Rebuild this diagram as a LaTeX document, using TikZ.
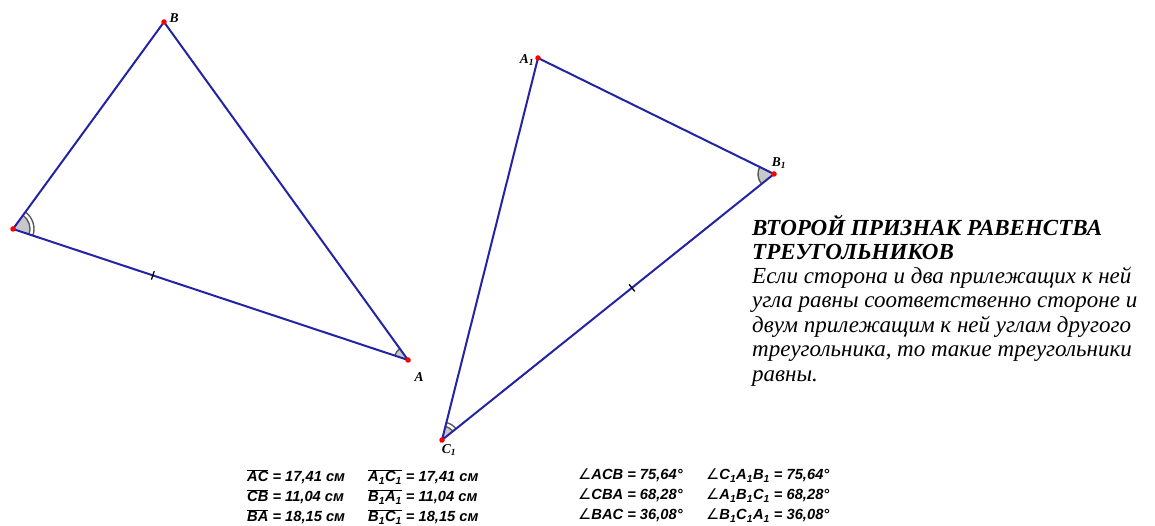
\documentclass[tikz,border=0pt]{standalone}
\usepackage{fontspec}
\setmainfont{Liberation Serif}
\setsansfont{Liberation Sans}
\newfontfamily\dejavu{DejaVu Sans}
\usetikzlibrary{angles,calc}
\definecolor{edgeblue}{RGB}{35,35,165}
\definecolor{arcgray}{RGB}{90,90,90}
\definecolor{fillgray}{RGB}{200,200,200}
\tikzset{
  edge/.style={draw=edgeblue, line width=2pt},
  ptdot/.style={circle, fill=red, inner sep=0pt, minimum size=5.5pt},
  vlabel/.style={font=\fontsize{13.5}{15}\selectfont\bfseries\itshape, inner sep=0pt},
  sector/.style={draw=arcgray, fill=fillgray, line width=1.4pt},
  outerarc/.style={draw=arcgray, line width=1.4pt},
  tickmark/.style={draw=black, line width=1.3pt},
  titleline/.style={anchor=base west, inner sep=0pt, font=\fontsize{23}{25}\selectfont\bfseries\itshape},
  bodyline/.style={anchor=base west, inner sep=0pt, font=\fontsize{23}{25}\selectfont\itshape},
  meas/.style={anchor=base west, inner sep=0pt, font=\fontsize{14.7}{16}\selectfont\sffamily\bfseries\itshape}
}
\newcommand{\ovl}[1]{$\overline{\hbox{#1}}$}
\newcommand{\ang}{{\dejavu\mdseries ∠}}
\begin{document}
\begin{tikzpicture}[x=1pt,y=1pt]
\useasboundingbox (0,0) rectangle (1155,526);
% vertices
\coordinate (C) at (13,297);
\coordinate (B) at (164,504);
\coordinate (A) at (408,166);
\coordinate (A1) at (538,468);
\coordinate (B1) at (774,352);
\coordinate (C1) at (442,86);
% angle marks
\pic[sector, angle radius=17pt] {angle=A--C--B};
\pic[outerarc, angle radius=21pt] {angle=A--C--B};
\pic[sector, angle radius=14pt] {angle=B--A--C};
\pic[sector, angle radius=16pt] {angle=A1--B1--C1};
\pic[sector, angle radius=14pt] {angle=B1--C1--A1};
\pic[outerarc, angle radius=18pt] {angle=B1--C1--A1};
% edges
\draw[edge] (C) -- (B) -- (A) -- cycle;
\draw[edge] (A1) -- (B1) -- (C1) -- cycle;
% ticks
\coordinate (t1) at ($(C)!0.354!(A)$);
\coordinate (t2) at ($(C1)!0.572!(B1)$);
\draw[tickmark] ($(t1)!4.5pt!90:(A)$) -- ($(t1)!4.5pt!-90:(A)$);
\draw[tickmark] ($(t2)!4.5pt!90:(B1)$) -- ($(t2)!4.5pt!-90:(B1)$);
% points
\foreach \p in {A,B,C,A1,B1,C1} \node[ptdot] (d\p) at (\p) {};
% labels
\node[vlabel] (lB) at (174,508) {B};
\node[vlabel] (lA) at (419,149) {A};
\node[vlabel] (lA1) at (527,466) {A\textsubscript{1}};
\node[vlabel] (lB1) at (779,363) {B\textsubscript{1}};
\node[vlabel] (lC1) at (449,76) {C\textsubscript{1}};
% theorem text
\node[titleline] (t1l) at (752,290) {ВТОРОЙ ПРИЗНАК РАВЕНСТВА};
\node[titleline] (t2l) at (752,266) {ТРЕУГОЛЬНИКОВ};
\node[bodyline] (b1) at (752,242) {Если сторона и два прилежащих к ней};
\node[bodyline] (b2) at (752,218) {угла равны соответственно стороне и};
\node[bodyline] (b3) at (752,193) {двум прилежащим к ней углам другого};
\node[bodyline] (b4) at (752,169) {треугольника, то такие треугольники};
\node[bodyline] (b5) at (752,144) {равны.};
% measurements
\node[meas] (m1) at (247,44) {\ovl{AC} = 17,41 см};
\node[meas] (m2) at (247,24) {\ovl{CB} = 11,04 см};
\node[meas] (m3) at (247,4) {\ovl{BA} = 18,15 см};
\node[meas] (m4) at (368,44) {\ovl{A\textsubscript{1}}\ovl{C\textsubscript{1}} = 17,41 см};
\node[meas] (m5) at (368,24) {\ovl{B\textsubscript{1}}\ovl{A\textsubscript{1}} = 11,04 см};
\node[meas] (m6) at (368,4) {\ovl{B\textsubscript{1}}\ovl{C\textsubscript{1}} = 18,15 см};
\node[meas] (a1) at (578,46) {\ang ACB = 75,64°};
\node[meas] (a2) at (578,26) {\ang CBA = 68,28°};
\node[meas] (a3) at (578,6) {\ang BAC = 36,08°};
\node[meas] (a4) at (706,46) {\ang C\textsubscript{1}A\textsubscript{1}B\textsubscript{1} = 75,64°};
\node[meas] (a5) at (706,26) {\ang A\textsubscript{1}B\textsubscript{1}C\textsubscript{1} = 68,28°};
\node[meas] (a6) at (706,6) {\ang B\textsubscript{1}C\textsubscript{1}A\textsubscript{1} = 36,08°};
\end{tikzpicture}
\end{document}
